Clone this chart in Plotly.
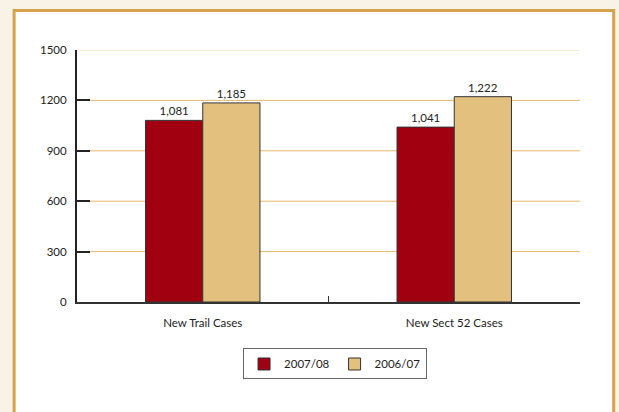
import plotly.graph_objects as go

categories = ["New Trail Cases", "New Sect 52 Cases"]
series_names = ["2007/08", "2006/07"]
values_2007_08 = [1081, 1041]
values_2006_07 = [1185, 1222]
y_ticks = [0, 300, 600, 900, 1200, 1500]

FONT = "Lato, 'Open Sans', sans-serif"
colors = ["#a0000f", "#e4c07f"]

fig = go.Figure()
for name, vals, col in zip(series_names, [values_2007_08, values_2006_07], colors):
    fig.add_trace(go.Bar(
        name=name, x=categories, y=vals,
        marker=dict(color=col, line=dict(color="#333333", width=1)),
        text=[f"{v:,}" for v in vals], textposition="outside",
        textfont=dict(size=11.5, color="#222222", family=FONT),
        cliponaxis=False,
    ))

fig.update_layout(
    width=619, height=412,
    margin=dict(l=77, r=39, t=50, b=110),
    paper_bgcolor="#f9f2e7",
    plot_bgcolor="rgba(0,0,0,0)",
    barmode="group", bargap=0.545, bargroupgap=0,
    font=dict(family=FONT, size=11.5, color="#222222"),
    showlegend=True,
    legend=dict(orientation="h", x=0.513, xanchor="center", y=-0.246, yanchor="middle",
                bordercolor="#666666", borderwidth=1, bgcolor="white",
                font=dict(size=11.5, color="#222222", family=FONT),
                itemwidth=30, traceorder="normal"),
    xaxis=dict(showline=True, linecolor="#333333", linewidth=2,
               ticks="inside", ticklen=6, tickcolor="#333333", tickwidth=1,
               tickson="boundaries", showgrid=False, ticklabelstandoff=9,
               tickfont=dict(size=11.5, family=FONT, color="#222222")),
    yaxis=dict(range=[0, 1500], tickvals=y_ticks, ticktext=[str(t) for t in y_ticks],
               showline=True, linecolor="#222222", linewidth=2,
               ticks="inside", ticklen=13, tickcolor="#222222", tickwidth=2,
               showgrid=False, zeroline=False, ticklabelstandoff=6,
               tickfont=dict(size=11.5, family=FONT, color="#222222")),
)

# outer framed white panel
fig.add_shape(type="rect", xref="paper", yref="paper",
              x0=-0.125, x1=1.067, y0=-0.5, y1=1.157,
              line=dict(color="#d6a24c", width=3), fillcolor="white", layer="below")

# horizontal gridlines, drawn behind the bars
for t in y_ticks[1:]:
    fig.add_shape(type="line", xref="paper", yref="y", x0=0, x1=1, y0=t, y1=t,
                  line=dict(color="#f0d6a6" if t == 1500 else "#e8ba68", width=1),
                  layer="between")

fig.write_html("out.html")
